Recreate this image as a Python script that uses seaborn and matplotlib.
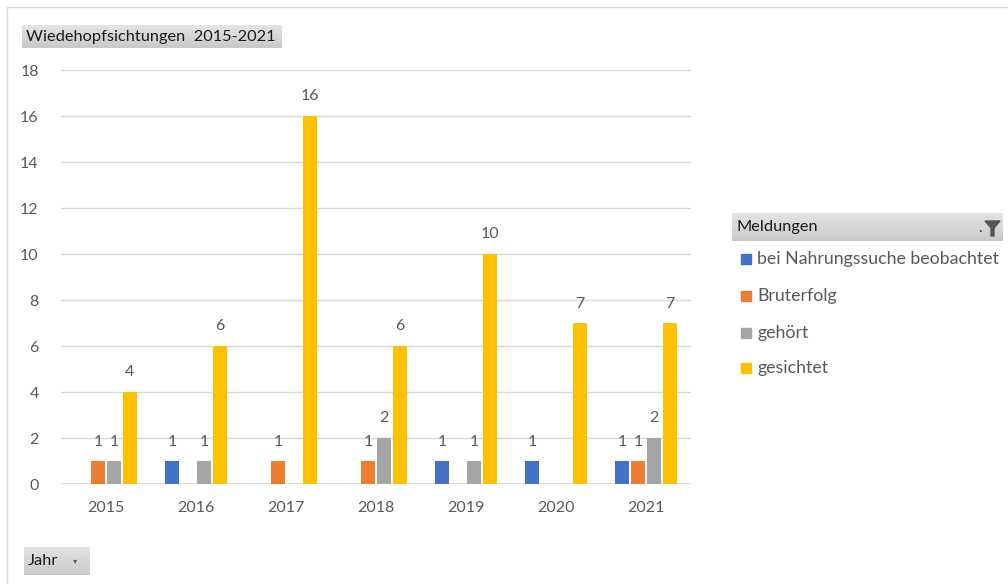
import numpy as np
import pandas as pd
import seaborn as sns
import matplotlib
matplotlib.use("Agg")
import matplotlib.pyplot as plt
from matplotlib.patches import Rectangle, Polygon

# data
years = ["2015", "2016", "2017", "2018", "2019", "2020", "2021"]
nahrung = [np.nan, 1, np.nan, np.nan, 1, 1, 1]
bruterfolg = [1, np.nan, 1, 1, np.nan, np.nan, 1]
gehoert = [1, 1, np.nan, 2, 1, np.nan, 2]
gesichtet = [4, 6, 16, 6, 10, 7, 7]

series = ["bei Nahrungssuche beobachtet", "Bruterfolg", "gehört", "gesichtet"]
colors = ["#4472C4", "#ED7D31", "#A5A5A5", "#FFC000"]

df = pd.DataFrame({"Jahr": years,
                   series[0]: nahrung,
                   series[1]: bruterfolg,
                   series[2]: gehoert,
                   series[3]: gesichtet})
long = df.melt(id_vars="Jahr", var_name="Meldungen", value_name="Anzahl").dropna()

sns.set_style("white")
plt.rcParams['font.family'] = ['Lato', 'DejaVu Sans']

W, H = 1008, 584
fig = plt.figure(figsize=(W / 100, H / 100), dpi=100)

def fx(x):
    return x / W

def fy(y):
    return 1 - y / H

ax = fig.add_axes([fx(61), fy(484), fx(691) - fx(61), fy(70) - fy(484)])

sns.barplot(data=long, x="Jahr", y="Anzahl", hue="Meldungen",
            order=years, hue_order=series, palette=colors, saturation=1,
            width=0.71, gap=0.18, errorbar=None, ax=ax, legend=False,
            linewidth=0)

for c in ax.containers:
    ax.bar_label(c, fmt="%d", padding=9, color="#595959", fontsize=11.5)

ax.set_ylim(0, 18)
ax.set_xlim(-0.5, 6.5)
ax.set_yticks(range(0, 19, 2))
ax.yaxis.grid(True, color="#D9D9D9", linewidth=1)
ax.set_axisbelow(True)
for s in ax.spines.values():
    s.set_visible(False)
ax.axhline(0, color="#D9D9D9", linewidth=1.2, zorder=0)
ax.tick_params(axis="y", length=0, pad=16, labelcolor="#595959", labelsize=11.5)
ax.tick_params(axis="x", length=0, pad=12, labelcolor="#595959", labelsize=11.5)
ax.set_xlabel("")
ax.set_ylabel("")

# chart border
fig.patches.append(Rectangle((fx(7), fy(H + 5)), 1.2, fy(7) - fy(H + 5),
                             transform=fig.transFigure, fill=False,
                             edgecolor="#D9D9D9", linewidth=1))

grad = np.linspace(0, 1, 50).reshape(-1, 1)

def button(x0, y0, x1, y1, text):
    bax = fig.add_axes([fx(x0), fy(y1), fx(x1) - fx(x0), fy(y0) - fy(y1)])
    bax.imshow(grad, aspect="auto", cmap=matplotlib.colors.LinearSegmentedColormap.from_list(
        "b", ["#E4E4E4", "#C9C9C9"]), extent=[0, 1, 0, 1], origin="upper")
    bax.set_axis_off()
    bax.text(4 / (x1 - x0), 0.5, text, va="center", ha="left",
             fontsize=11.8, color="#1a1a1a", transform=bax.transAxes)
    return bax

button(22, 25, 282, 48, "Wiedehopfsichtungen  2015-2021")
jb = button(24, 547, 90, 575, "Jahr")
jb.text(0.78, 0.5, "▾", fontsize=6, color="#555555", ha="center", va="center",
        transform=jb.transAxes)
mb = button(732, 213, 1003, 241, "Meldungen")

# filter funnel icon
fig.patches.append(Polygon([[fx(985), fy(221)], [fx(1000), fy(221)], [fx(994), fy(228)],
                            [fx(994), fy(236)], [fx(991), fy(236)], [fx(991), fy(228)]],
                           closed=True, transform=fig.transFigure, color="#555555"))
fig.text(fx(980), fy(235), ".", fontsize=11, color="#333333", ha="center", va="bottom")

# legend entries
ys = [259, 296, 333, 368]
for name, col, y in zip(series, colors, ys):
    fig.patches.append(Rectangle((fx(741), fy(y + 5)), fx(751) - fx(741), fy(y - 5) - fy(y + 5),
                                 transform=fig.transFigure, color=col))
    fig.text(fx(757), fy(y), name, fontsize=12.8, color="#595959", va="center", ha="left")

fig.savefig("out.png", dpi=100)
